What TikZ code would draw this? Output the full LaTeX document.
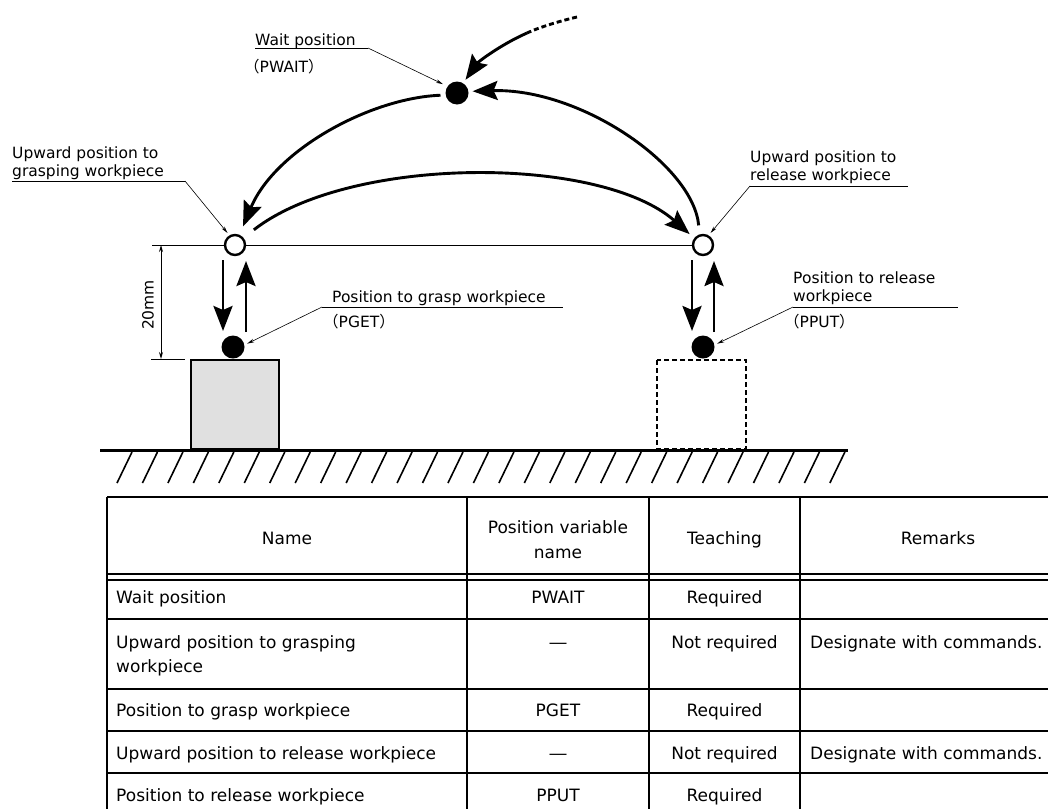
\documentclass[tikz,border=0pt]{standalone}
\usepackage{fontspec}
\newfontfamily\lblfont{DejaVu Sans}
\newfontfamily\jpfont{Noto Sans CJK JP}
\usetikzlibrary{arrows.meta}
\newcommand{\lp}{{\jpfont （}}
\newcommand{\rp}{{\jpfont ）}}
\begin{document}
\begin{tikzpicture}[x=1pt,y=-1pt,
  font=\lblfont\fontsize{15.5}{18.5}\selectfont,
  bigarrow/.style={line width=2.9pt,-{Stealth[length=25pt,width=19pt,inset=4pt]}},
  leader/.style={line width=0.6pt,-{Stealth[length=7pt,width=3.5pt]}},
  uline/.style={line width=0.8pt},
  opendot/.style={circle,draw,line width=2.4pt,fill=white,minimum size=20pt,inner sep=0pt},
  fulldot/.style={circle,fill=black,minimum size=23pt,inner sep=0pt},
  lbl/.style={anchor=base west,inner sep=0pt},
  tbltext/.style={inner sep=0pt,font=\lblfont\fontsize{17}{24}\selectfont},
  rule/.style={line width=2pt},
  vrule/.style={line width=1.5pt}]
\useasboundingbox (0,0) rectangle (1048,809);

% ---------- ground and workpieces ----------
\draw[line width=3pt] (100,450) -- (848,450);
\foreach \i in {0,...,28}
  \draw[line width=1.6pt] ({117+25.46*\i},483) -- ({132+25.46*\i},452);
\draw[line width=2.5pt,fill=black!12] (191,360) rectangle (279,449);
\draw[line width=2.5pt,dash pattern=on 5pt off 3pt] (657,360) rectangle (746,449);

% ---------- reference line and 20mm dimension ----------
\coordinate (ext0) at (152,245);
\coordinate (dimtop) at (161,245);
\coordinate (dimbot) at (161,359);
\coordinate (extb0) at (151,359);
\coordinate (extb1) at (185,359);
\draw[line width=1pt] (ext0) -- (703,245);
\draw[line width=1pt] (extb0) -- (extb1);
\draw[line width=1pt,{Stealth[length=7pt,width=4pt]}-{Stealth[length=7pt,width=4pt]}] (dimtop) -- (dimbot);
\node[rotate=90,inner sep=0pt] (dimtxt) at (148,305) {20mm};

% ---------- positions ----------
\node[fulldot] (pw) at (457,93) {};
\node[opendot] (ug) at (235,245) {};
\node[opendot] (ur) at (703,245) {};
\node[fulldot] (pg) at (233,347) {};
\node[fulldot] (pp) at (703,347) {};

% ---------- vertical approach / depart arrows ----------
\coordinate (gd0) at (223,260); \coordinate (gd1) at (223,331);
\coordinate (gu0) at (246,332); \coordinate (gu1) at (246,261);
\coordinate (rd0) at (692,260); \coordinate (rd1) at (692,331);
\coordinate (ru0) at (714,332); \coordinate (ru1) at (714,261);
\draw[bigarrow] (gd0) -- (gd1);
\draw[bigarrow] (gu0) -- (gu1);
\draw[bigarrow] (rd0) -- (rd1);
\draw[bigarrow] (ru0) -- (ru1);

% ---------- transfer arcs ----------
\draw[bigarrow,shorten <=5pt,shorten >=9pt] (pw.190) .. controls (370,98) and (275,150) .. (ug.66);
\draw[bigarrow,shorten <=13pt,shorten >=6pt] (ug.40) .. controls (350,155) and (600,155) .. (ur.142);
\draw[bigarrow,shorten <=9pt,shorten >=4pt] (ur.108) .. controls (693,165) and (580,88) .. (pw.8);
\coordinate (entry0) at (577,17);
\coordinate (entry1) at (527,33);
\draw[line width=2.9pt,dash pattern=on 5pt off 3pt] (entry0) .. controls (560,21) and (540,27) .. (entry1);
\draw[bigarrow,shorten >=4pt] (entry1) .. controls (500,45) and (478,62) .. (pw.58);

% ---------- labels with leaders ----------
\node[lbl] (wtxt) at (255,45) {Wait position};
\node[lbl] (wvar) at (244,72) {\lp PWAIT\rp};
\coordinate (wu0) at (255,48); \coordinate (wu1) at (368,48);
\draw[uline] (wu0) -- (wu1);
\draw[leader,shorten >=5pt] (wu1) -- (pw.145);

\node[anchor=south west,inner sep=0pt,align=left] (ugtxt) at (12,180) {Upward position to\\grasping workpiece};
\coordinate (gu0l) at (12,181); \coordinate (gu1l) at (185,181);
\draw[uline] (gu0l) -- (gu1l);
\draw[leader,shorten >=3pt] (gu1l) -- (ug.120);

\node[anchor=south west,inner sep=0pt,align=left] (urtxt) at (750,184) {Upward position to\\release workpiece};
\coordinate (ru0l) at (750,186); \coordinate (ru1l) at (908,186);
\draw[uline] (ru0l) -- (ru1l);
\draw[leader,shorten >=3pt] (ru0l) -- (ur.60);

\node[lbl] (pgtxt) at (332,302) {Position to grasp workpiece};
\node[lbl] (pgvar) at (323,327) {\lp PGET\rp};
\coordinate (pu0) at (322,307); \coordinate (pu1) at (563,307);
\draw[uline] (pu0) -- (pu1);
\draw[leader,shorten >=3pt] (pu0) -- (pg.10);

\node[anchor=south west,inner sep=0pt,align=left] (pptxt) at (793,305) {Position to release\\workpiece};
\node[lbl] (ppvar) at (784,327) {\lp PPUT\rp};
\coordinate (qu0) at (793,307); \coordinate (qu1) at (958,307);
\draw[uline] (qu0) -- (qu1);
\draw[leader,shorten >=3pt] (qu0) -- (pp.10);

% ---------- table ----------
\def\tl{107}
\draw[line width=2.5pt] (\tl,497) -- (1080,497);
\draw[rule] (\tl,574) -- (1080,574);
\draw[rule] (\tl,580) -- (1080,580);
\foreach \yy in {619,689,731,773}
  \draw[rule] (\tl,\yy) -- (1080,\yy);
\foreach \xx in {\tl,467,649,800}
  \draw[vrule] (\xx,497) -- (\xx,809);

\node[tbltext,anchor=base] (hname) at ({(\tl+467)/2},544) {Name};
\node[tbltext,anchor=base] (hvar) at (558,533) {Position variable};
\node[tbltext,anchor=base] (hvar2) at (558,558) {name};
\node[tbltext,anchor=base] (hteach) at (724.5,544) {Teaching};
\node[tbltext,anchor=base] (hrem) at (938,544) {Remarks};

\node[tbltext,anchor=base west] (r1a) at (116,603) {Wait position};
\node[tbltext,anchor=base] (r1b) at (558,603) {PWAIT};
\node[tbltext,anchor=base] (r1c) at (724.5,603) {Required};

\node[tbltext,anchor=base west] (r2a) at (116,648) {Upward position to grasping};
\node[tbltext,anchor=base west] (r2a2) at (116,672) {workpiece};
\node[tbltext,anchor=base] (r2b) at (558,648) {―};
\node[tbltext,anchor=base] (r2c) at (724.5,648) {Not required};
\node[tbltext,anchor=base west] (r2d) at (810,648) {Designate with commands.};

\node[tbltext,anchor=base west] (r3a) at (116,716) {Position to grasp workpiece};
\node[tbltext,anchor=base] (r3b) at (558,716) {PGET};
\node[tbltext,anchor=base] (r3c) at (724.5,716) {Required};

\node[tbltext,anchor=base west] (r4a) at (116,759) {Upward position to release workpiece};
\node[tbltext,anchor=base] (r4b) at (558,759) {―};
\node[tbltext,anchor=base] (r4c) at (724.5,759) {Not required};
\node[tbltext,anchor=base west] (r4d) at (810,759) {Designate with commands.};

\node[tbltext,anchor=base west] (r5a) at (116,801) {Position to release workpiece};
\node[tbltext,anchor=base] (r5b) at (558,801) {PPUT};
\node[tbltext,anchor=base] (r5c) at (724.5,801) {Required};
\end{tikzpicture}
\end{document}
